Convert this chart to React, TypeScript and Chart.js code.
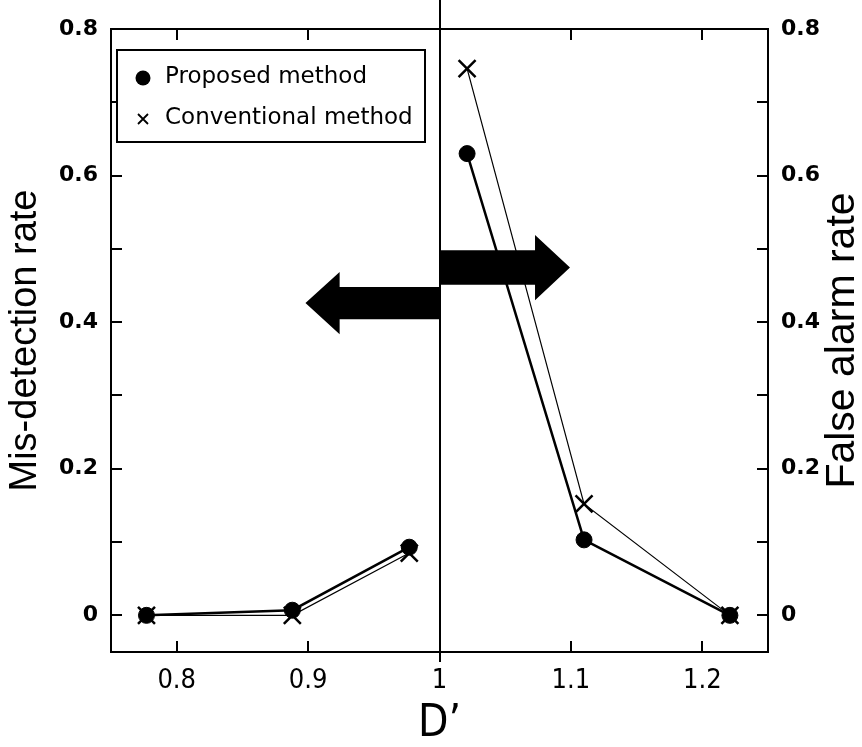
import React, { useEffect, useRef } from 'react';
import { Chart, registerables } from 'chart.js';

Chart.register(...registerables);

// ---- data ----
const dMissValues = [0.777, 0.888, 0.977];
const dFalseAlarmValues = [1.021, 1.11, 1.221];
const proposedMissRate = [0, 0.007, 0.093];
const conventionalMissRate = [0, 0, 0.085];
const proposedFalseAlarmRate = [0.63, 0.103, 0];
const conventionalFalseAlarmRate = [0.746, 0.152, 0];

const seriesNames = ['Proposed method', 'Conventional method'];
const xTitle = 'D\u2019';
const yLeftTitle = 'Mis-detection rate';
const yRightTitle = 'False alarm rate';

const xTickValues = [0.8, 0.9, 1.0, 1.1, 1.2];
const xTickLabels = ['0.8', '0.9', '1', '1.1', '1.2'];
const yMinorTickValues = [0, 0.1, 0.2, 0.3, 0.4, 0.5, 0.6, 0.7, 0.8];
const yTickValues = [0, 0.2, 0.4, 0.6, 0.8];
const yTickLabels = ['0', '0.2', '0.4', '0.6', '0.8'];

const dividerD = 1.0;
// arrows in data units: [tailX, headBaseX, tipX, centerY, bodyHalf, headHalf]
const leftArrow = [1.0, 0.924, 0.898, 0.426, 0.022, 0.0425];
const rightArrow = [1.0, 1.0727, 1.0993, 0.4745, 0.0235, 0.0445];

// ---- styling ----
const NARROW = '"Liberation Sans Narrow", "DejaVu Sans Condensed", "Roboto Condensed", "Liberation Sans", sans-serif';
const SANS = '"Liberation Sans", Arial, sans-serif';
const TICKFONT = '"DejaVu Sans", sans-serif';
const LEGENDFONT = '"DejaVu Sans", sans-serif';

const labelFor = (values: number[], labels: string[]) => (v: number | string) => {
  const n = Number(v);
  const i = values.findIndex((t) => Math.abs(t - n) < 1e-6);
  return i >= 0 ? labels[i] : '';
};

function drawArrow(ctx: CanvasRenderingContext2D, xs: any, ys: any, a: number[]) {
  const [tailX, baseX, tipX, cY, bodyHalf, headHalf] = a;
  const tail = xs.getPixelForValue(tailX);
  const base = xs.getPixelForValue(baseX);
  const tip = xs.getPixelForValue(tipX);
  const cy = ys.getPixelForValue(cY);
  const bh = Math.abs(ys.getPixelForValue(cY + bodyHalf) - cy);
  const hh = Math.abs(ys.getPixelForValue(cY + headHalf) - cy);
  ctx.beginPath();
  ctx.moveTo(tail, cy - bh);
  ctx.lineTo(base, cy - bh);
  ctx.lineTo(base, cy - hh);
  ctx.lineTo(tip, cy);
  ctx.lineTo(base, cy + hh);
  ctx.lineTo(base, cy + bh);
  ctx.lineTo(tail, cy + bh);
  ctx.closePath();
  ctx.fill();
}

const decorPlugin = {
  id: 'decor',
  beforeDatasetsDraw(chart: any) {
    const { ctx, chartArea: a, scales } = chart;
    const xs = scales.x;
    const ys = scales.y;
    ctx.save();
    ctx.strokeStyle = '#000';
    ctx.fillStyle = '#000';
    ctx.lineWidth = 2;
    const dx = Math.round(xs.getPixelForValue(dividerD));
    ctx.beginPath();
    ctx.moveTo(dx, 0);
    ctx.lineTo(dx, a.bottom + 10);
    ctx.stroke();
    drawArrow(ctx, xs, ys, leftArrow);
    drawArrow(ctx, xs, ys, rightArrow);
    ctx.restore();
  },
  afterDatasetsDraw(chart: any) {
    const { ctx, chartArea: a, scales } = chart;
    const xs = scales.x;
    const ys = scales.y;
    const tl = 11;
    ctx.save();
    ctx.strokeStyle = '#000';
    ctx.lineWidth = 2;
    ctx.strokeRect(a.left, a.top, a.right - a.left, a.bottom - a.top);
    ctx.beginPath();
    for (const t of ys.ticks) {
      const py = Math.round(ys.getPixelForValue(t.value));
      ctx.moveTo(a.left, py);
      ctx.lineTo(a.left + tl, py);
      ctx.moveTo(a.right, py);
      ctx.lineTo(a.right - tl, py);
    }
    for (const t of xs.ticks) {
      const px = Math.round(xs.getPixelForValue(t.value));
      ctx.moveTo(px, a.bottom);
      ctx.lineTo(px, a.bottom - tl);
      ctx.moveTo(px, a.top);
      ctx.lineTo(px, a.top + tl);
    }
    ctx.stroke();
    ctx.restore();
  },
  afterDraw(chart: any) {
    const { ctx, chartArea: a } = chart;
    ctx.save();
    // legend box
    const bx = a.left + 6;
    const by = a.top + 21;
    ctx.fillStyle = '#fff';
    ctx.fillRect(bx, by, 308, 92);
    ctx.strokeStyle = '#000';
    ctx.lineWidth = 2;
    ctx.strokeRect(bx, by, 308, 92);
    ctx.fillStyle = '#000';
    ctx.beginPath();
    ctx.arc(bx + 26, by + 28, 7.5, 0, Math.PI * 2);
    ctx.fill();
    const cx = bx + 26;
    const cy = by + 69;
    ctx.lineWidth = 1.8;
    ctx.beginPath();
    ctx.moveTo(cx - 5, cy - 5);
    ctx.lineTo(cx + 5, cy + 5);
    ctx.moveTo(cx + 5, cy - 5);
    ctx.lineTo(cx - 5, cy + 5);
    ctx.stroke();
    ctx.font = '23px ' + LEGENDFONT;
    ctx.textAlign = 'left';
    ctx.textBaseline = 'middle';
    ctx.fillText(seriesNames[0], bx + 48, by + 27);
    ctx.fillText(seriesNames[1], bx + 48, by + 68);
    // right axis title
    ctx.translate(a.right + 75, (a.top + a.bottom) / 2);
    ctx.rotate(-Math.PI / 2);
    ctx.font = '41px ' + SANS;
    ctx.textAlign = 'center';
    ctx.textBaseline = 'middle';
    ctx.fillText(yRightTitle, 0, 0);
    ctx.restore();
  },
};

const yTicks = (padding: number) => ({
  autoSkip: false,
  padding,
  color: '#000',
  font: { family: TICKFONT, weight: 'bold' as const, size: 22 },
  callback: labelFor(yTickValues, yTickLabels),
});
const setYTicks = (s: any) => { s.ticks = yMinorTickValues.map((value) => ({ value })); };

export default function App() {
  const ref = useRef<HTMLCanvasElement>(null);
  useEffect(() => {
    if (!ref.current) return;
    const pts = (xs: number[], ys: number[]) => xs.map((x, i) => ({ x, y: ys[i] }));
    const chart = new Chart(ref.current, {
      type: 'line',
      data: {
        datasets: [
          {
            label: seriesNames[0],
            data: pts(dMissValues, proposedMissRate),
            yAxisID: 'y',
            borderColor: '#000',
            backgroundColor: '#000',
            borderWidth: 2.5,
            pointStyle: 'circle',
            pointRadius: 8,
            pointBorderWidth: 1,
            pointBackgroundColor: '#000',
            pointBorderColor: '#000',
          },
          {
            label: seriesNames[0],
            data: pts(dFalseAlarmValues, proposedFalseAlarmRate),
            yAxisID: 'y2',
            borderColor: '#000',
            backgroundColor: '#000',
            borderWidth: 2.5,
            pointStyle: 'circle',
            pointRadius: 8,
            pointBorderWidth: 1,
            pointBackgroundColor: '#000',
            pointBorderColor: '#000',
          },
          {
            label: seriesNames[1],
            data: pts(dMissValues, conventionalMissRate),
            yAxisID: 'y',
            borderColor: '#000',
            backgroundColor: '#000',
            borderWidth: 1.2,
            pointStyle: 'crossRot',
            pointRadius: 12,
            pointBorderWidth: 2.5,
            pointBorderColor: '#000',
          },
          {
            label: seriesNames[1],
            data: pts(dFalseAlarmValues, conventionalFalseAlarmRate),
            yAxisID: 'y2',
            borderColor: '#000',
            backgroundColor: '#000',
            borderWidth: 1.2,
            pointStyle: 'crossRot',
            pointRadius: 12,
            pointBorderWidth: 2.5,
            pointBorderColor: '#000',
          },
        ],
      },
      options: {
        responsive: false,
        animation: false,
        devicePixelRatio: 1,
        layout: { padding: { top: 29, left: 0, right: 0, bottom: 0 } },
        plugins: { legend: { display: false }, tooltip: { enabled: false } },
        scales: {
          x: {
            type: 'linear',
            position: 'bottom',
            min: 0.75,
            max: 1.25,
            afterBuildTicks: (s: any) => { s.ticks = xTickValues.map((value) => ({ value })); },
            afterFit: (s: any) => { s.height = 95; },
            grid: { display: false, drawTicks: false },
            border: { display: false },
            ticks: {
              autoSkip: false,
              maxRotation: 0,
              minRotation: 0,
              padding: 13,
              color: '#000',
              font: { family: NARROW, size: 27 },
              callback: labelFor(xTickValues, xTickLabels),
            },
            title: {
              display: true,
              text: xTitle,
              color: '#000',
              font: { family: NARROW, size: 44, lineHeight: 1 },
              padding: { top: 0, bottom: 0 },
            },
          },
          y: {
            type: 'linear',
            position: 'left',
            min: -0.05,
            max: 0.8,
            afterBuildTicks: setYTicks,
            afterFit: (s: any) => { s.width = 111; },
            grid: { display: false, drawTicks: false },
            border: { display: false },
            ticks: yTicks(13),
            title: {
              display: true,
              text: yLeftTitle,
              color: '#000',
              font: { family: SANS, size: 38, lineHeight: 1 },
              padding: { top: 7, bottom: 0 },
            },
          },
          y2: {
            type: 'linear',
            position: 'right',
            min: -0.05,
            max: 0.8,
            afterBuildTicks: setYTicks,
            afterFit: (s: any) => { s.width = 94; },
            grid: { display: false, drawTicks: false },
            border: { display: false },
            ticks: yTicks(13),
          },
        },
      } as any,
      plugins: [decorPlugin],
    });
    return () => chart.destroy();
  }, []);
  return (
    <div style={{ position: 'absolute', left: 0, top: 0, width: 862, height: 747, background: '#fff' }}>
      <canvas ref={ref} width={862} height={747} style={{ display: 'block', width: 862, height: 747 }} />
    </div>
  );
}
